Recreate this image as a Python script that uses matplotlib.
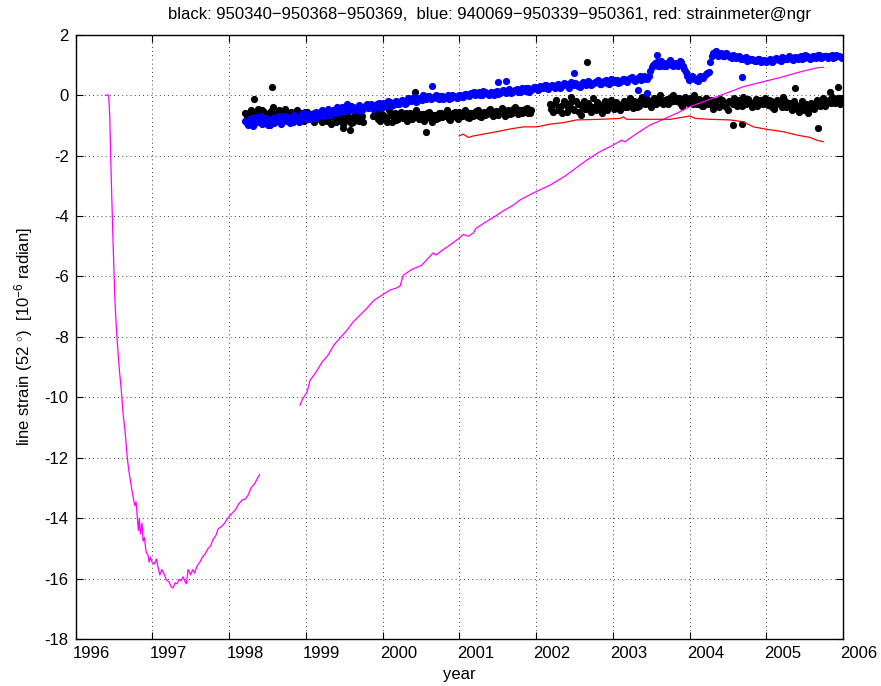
import numpy as np
import matplotlib
matplotlib.use("Agg")
import matplotlib.pyplot as plt
from matplotlib.transforms import ScaledTranslation

plt.rcParams['font.family'] = ['Liberation Sans', 'DejaVu Sans']
plt.rcParams['mathtext.fontset'] = 'custom'
plt.rcParams['mathtext.rm'] = 'Liberation Sans'
plt.rcParams['mathtext.it'] = 'Liberation Sans'
plt.rcParams['axes.unicode_minus'] = False

# strainmeter record (magenta), two pieces
mag1_t = [1996.387, 1996.430, 1996.435, 1996.443, 1996.452, 1996.465, 1996.474, 1996.487,
          1996.500, 1996.513, 1996.530, 1996.552, 1996.574, 1996.596, 1996.617, 1996.643,
          1996.670, 1996.691, 1996.713, 1996.739, 1996.770, 1996.787, 1996.800, 1996.817,
          1996.830, 1996.843, 1996.865, 1996.878, 1996.896, 1996.917, 1996.943, 1996.957,
          1996.974, 1996.996, 1997.026, 1997.052, 1997.070, 1997.096, 1997.122, 1997.148,
          1997.183, 1997.217, 1997.243, 1997.270, 1997.296, 1997.322, 1997.348, 1997.374,
          1997.400, 1997.426, 1997.443, 1997.465, 1997.496, 1997.526, 1997.548, 1997.583,
          1997.617, 1997.652, 1997.691, 1997.726, 1997.757, 1997.791, 1997.826, 1997.857,
          1997.896, 1997.939, 1997.983, 1998.026, 1998.083, 1998.126, 1998.170, 1998.213,
          1998.248, 1998.287, 1998.330, 1998.365, 1998.396]
mag1_v = [0.0, 0.0, -0.27, -0.62, -1.57, -2.86, -3.69, -4.86,
          -5.92, -6.87, -7.69, -8.52, -9.22, -9.81, -10.52, -11.11,
          -11.93, -12.40, -12.76, -13.17, -13.58, -13.46, -13.87, -14.41,
          -14.00, -14.52, -14.17, -14.76, -14.64, -15.11, -15.23, -15.46,
          -15.29, -15.46, -15.52, -15.35, -15.58, -15.88, -15.70, -15.82,
          -16.05, -16.11, -16.27, -16.31, -16.14, -16.17, -16.02, -16.07,
          -15.94, -16.11, -16.17, -15.70, -15.88, -15.70, -15.82, -15.58,
          -15.46, -15.29, -15.17, -15.00, -14.93, -14.70, -14.58, -14.35,
          -14.29, -14.17, -14.00, -13.87, -13.72, -13.52, -13.40, -13.37,
          -13.23, -12.99, -12.87, -12.70, -12.56]

mag2_t = [1998.923, 1998.963, 1999.015, 1999.054, 1999.132, 1999.210, 1999.288, 1999.366,
          1999.445, 1999.536, 1999.614, 1999.705, 1999.796, 1999.888, 1999.992, 2000.096,
          2000.174, 2000.227, 2000.270, 2000.379, 2000.509, 2000.660, 2000.696, 2000.770,
          2000.878, 2000.995, 2001.051, 2001.117, 2001.182, 2001.217, 2001.312, 2001.422,
          2001.573, 2001.703, 2001.790, 2001.986, 2002.181, 2002.377, 2002.660, 2002.833,
          2003.006, 2003.116, 2003.159, 2003.311, 2003.485, 2003.658, 2003.833, 2004.006,
          2004.179, 2004.354, 2004.527, 2004.701, 2004.875, 2005.049, 2005.222, 2005.397,
          2005.571, 2005.678, 2005.743]
mag2_v = [-10.26, -10.03, -9.83, -9.44, -9.17, -8.84, -8.61, -8.27,
          -8.04, -7.78, -7.51, -7.28, -7.05, -6.79, -6.62, -6.45,
          -6.39, -6.32, -5.96, -5.77, -5.63, -5.22, -5.29, -5.15,
          -4.96, -4.74, -4.61, -4.67, -4.56, -4.41, -4.25, -4.08,
          -3.83, -3.64, -3.47, -3.21, -2.98, -2.68, -2.15, -1.87,
          -1.65, -1.49, -1.54, -1.27, -0.99, -0.80, -0.60, -0.38,
          -0.22, -0.05, 0.11, 0.28, 0.39, 0.50, 0.61, 0.74,
          0.85, 0.91, 0.92]

# strainmeter@ngr (red)
red_t = [2000.999, 2001.051, 2001.117, 2001.182, 2001.312, 2001.487, 2001.660, 2001.833,
         2002.008, 2002.181, 2002.355, 2002.529, 2002.833, 2003.093, 2003.137, 2003.181,
         2003.485, 2003.746, 2004.006, 2004.071, 2004.267, 2004.527, 2004.701, 2004.831,
         2005.006, 2005.222, 2005.397, 2005.571, 2005.657, 2005.743]
red_v = [-1.35, -1.29, -1.40, -1.35, -1.29, -1.21, -1.12, -1.05,
         -1.05, -0.96, -0.91, -0.82, -0.80, -0.77, -0.72, -0.80,
         -0.80, -0.80, -0.69, -0.77, -0.80, -0.82, -0.88, -1.05,
         -1.13, -1.21, -1.32, -1.40, -1.49, -1.54]

# GPS line strain, two interleaved sample sets every 0.04 yr
step = 0.04
blue_t0 = 1998.21
blue_v = [-0.85, -1.0, -0.78, -0.95, -0.82, -0.7, -0.92, -0.8, -0.98, -0.75,
          -0.85, -0.68, -0.9, -0.78, -0.72, -0.88, -0.65, -0.8, -0.7, -0.6,
          -0.78, -0.62, -0.72, -0.55, -0.68, -0.5, -0.62, -0.45, -0.58, -0.5,
          -0.4, -0.55, -0.42, -0.3, -0.5, -0.38, -0.45, -0.32, -0.48, -0.35,
          -0.42, -0.28, -0.4, -0.3, -0.38, -0.25, -0.35, -0.22, -0.32, -0.18,
          -0.28, -0.15, -0.3, -0.1, -0.2, -0.05, -0.18, -0.08, 0.02, -0.12,
          -0.02, -0.1, 0.0, -0.12, -0.04, -0.1, 0.0, -0.08, -0.02, -0.1,
          0.02, -0.06, 0.05, -0.03, 0.08, 0.0, 0.1, 0.02, 0.12, 0.04,
          0.1, 0.0, 0.14, 0.06, 0.16, 0.08, 0.2, 0.1, 0.18, 0.12,
          0.22, 0.14, 0.25, 0.16, 0.28, 0.2, 0.3, 0.22, 0.35, 0.26,
          0.32, 0.22, 0.36, 0.28, 0.4, 0.3, 0.42, 0.32, 0.38, 0.28,
          0.42, 0.34, 0.45, 0.36, 0.42, 0.5, 0.38, 0.46, 0.4, 0.52,
          0.44, 0.5, 0.42, 0.55, 0.46, 0.52, 0.6, 0.48, 0.58, 0.5,
          0.62, 0.55, 0.8, 1.0, 1.1, 0.95, 1.05, 0.98, 1.1, 1.0,
          1.08, 0.95, 1.1, 0.85, 0.65, 0.55, 0.6, 0.5, 0.62, 0.58,
          0.7, 0.78, 1.3, 1.42, 1.3, 1.38, 1.28, 1.35, 1.25, 1.32,
          1.22, 1.28, 1.18, 1.25, 1.15, 1.2, 1.12, 1.18, 1.1, 1.16,
          1.12, 1.2, 1.14, 1.22, 1.16, 1.25, 1.18, 1.28, 1.2, 1.26,
          1.18, 1.3, 1.22, 1.28, 1.2, 1.3, 1.24, 1.32, 1.25, 1.3,
          1.22, 1.32, 1.26, 1.3, 1.25]
blue_v2 = [-0.92, -0.8, -1.02, -0.72, -0.9, -0.95, -0.75, -1.0, -0.82, -0.92,
           -0.72, -0.95, -0.7, -0.85, -0.92, -0.68, -0.82, -0.9, -0.62, -0.75,
           -0.68, -0.8, -0.58, -0.75, -0.6, -0.7, -0.52, -0.66, -0.48, -0.6,
           -0.5, -0.38, -0.52, -0.45, -0.35, -0.48, -0.42, -0.52, -0.4, -0.3,
           -0.38, -0.45, -0.32, -0.25, -0.42, -0.3, -0.2, -0.35, -0.25, -0.3,
           -0.22, -0.2, -0.25, -0.15, -0.08, -0.22, -0.1, -0.15, -0.05, -0.02,
           -0.12, -0.05, -0.08, -0.02, -0.14, -0.06, -0.12, 0.02, -0.06, 0.0,
           -0.05, 0.04, 0.0, 0.06, 0.12, 0.05, 0.02, 0.14, 0.08, 0.02,
           0.08, 0.12, 0.04, 0.14, 0.1, 0.16, 0.06, 0.14, 0.2, 0.1,
           0.18, 0.24, 0.12, 0.2, 0.26, 0.16, 0.24, 0.32, 0.2, 0.3,
           0.28, 0.34, 0.25, 0.32, 0.36, 0.25, 0.38, 0.4, 0.3, 0.34,
           0.38, 0.46, 0.32, 0.4, 0.48, 0.36, 0.44, 0.5, 0.38, 0.46,
           0.5, 0.4, 0.48, 0.52, 0.44, 0.56, 0.5, 0.55, 0.62, 0.52,
           0.58, 0.65, 0.92, 1.05, 0.98, 1.12, 0.95, 1.05, 1.15, 0.98,
           1.02, 1.12, 0.95, 0.75, 0.5, 0.62, 0.55, 0.48, 0.58, 0.62,
           0.72, 1.1, 1.38, 1.45, 1.35, 1.3, 1.4, 1.3, 1.22, 1.3,
           1.26, 1.2, 1.22, 1.12, 1.18, 1.15, 1.12, 1.2, 1.14, 1.1,
           1.16, 1.1, 1.18, 1.2, 1.14, 1.22, 1.2, 1.25, 1.16, 1.22,
           1.25, 1.2, 1.32, 1.26, 1.24, 1.28, 1.34, 1.22, 1.28, 1.3,
           1.28, 1.24, 1.34, 1.28, 1.22]
blue_out_t = [2000.64, 2001.61, 2001.51, 2002.49, 2003.58, 2004.68, 2003.45, 2003.33]
blue_out_v = [0.31, 0.47, 0.44, 0.74, 1.33, 0.61, 0.08, 0.17]

black1_t0 = 1998.21
black1_v = [-0.6, -0.85, -0.5, -0.75, -0.45, -0.7, -0.55, -0.9, -0.6, -0.4,
            -0.75, -0.5, -0.65, -0.45, -0.8, -0.55, -0.7, -0.5, -0.6, -0.85,
            -0.55, -0.7, -0.62, -0.8, -0.58, -0.9, -0.65, -0.75, -0.95, -0.6,
            -0.85, -0.7, -0.95, -0.65, -0.8, -0.9, -0.62, -0.85, -0.7]
black1_v2 = [-0.7, -0.55, -0.8, -0.62, -0.72, -0.48, -0.82, -0.65, -0.52, -0.78,
             -0.6, -0.85, -0.55, -0.72, -0.62, -0.9, -0.6, -0.78, -0.7, -0.55,
             -0.8, -0.62, -0.88, -0.7, -0.78, -0.65, -0.85, -0.6, -0.72, -0.88,
             -0.68, -0.78, -0.85, -0.72, -0.92, -0.7, -0.8, -0.68, -0.9]
black2_t0 = 1999.88
black2_v = [-0.7, -0.55, -0.85, -0.65, -0.75, -0.5, -0.9, -0.6, -0.78, -0.55,
            -0.7, -0.85, -0.6, -0.72, -0.5, -0.8, -0.62, -0.7, -0.55, -0.88,
            -0.65, -0.75, -0.58, -0.7, -0.5, -0.82, -0.6, -0.72, -0.55, -0.68,
            -0.48, -0.75, -0.58, -0.65, -0.5, -0.72, -0.55, -0.62, -0.45, -0.7,
            -0.52, -0.6, -0.42, -0.68, -0.5, -0.58, -0.4, -0.62, -0.48, -0.55,
            -0.42, -0.6]
black2_v2 = [-0.6, -0.8, -0.62, -0.72, -0.88, -0.65, -0.7, -0.82, -0.62, -0.75,
             -0.6, -0.65, -0.78, -0.58, -0.7, -0.62, -0.85, -0.6, -0.75, -0.66,
             -0.78, -0.6, -0.72, -0.62, -0.78, -0.65, -0.55, -0.8, -0.62, -0.58,
             -0.72, -0.6, -0.68, -0.52, -0.7, -0.6, -0.66, -0.5, -0.62, -0.55,
             -0.65, -0.48, -0.6, -0.55, -0.62, -0.45, -0.55, -0.5, -0.6, -0.45,
             -0.58, -0.5]
black3_t0 = 2002.18
black3_v = [-0.3, -0.55, -0.15, -0.45, -0.6, -0.25, -0.4, -0.05, -0.5, -0.3,
            -0.65, -0.2, -0.45, -0.35, -0.1, -0.5, -0.3, -0.6, -0.2, -0.4,
            -0.15, -0.45, -0.3, -0.5, -0.2, -0.38, -0.1, -0.42, -0.25, -0.35,
            -0.05, -0.3, -0.18, -0.4, -0.08, -0.25, 0.0, -0.3, -0.12, -0.22,
            0.02, -0.2, -0.1, -0.35, -0.05, -0.25, -0.12, 0.0, -0.3, -0.15,
            -0.35, -0.1, -0.28, -0.45, -0.2, -0.38, -0.15, -0.3, -0.5, -0.22,
            -0.1, -0.35, -0.25, -0.05, -0.3, -0.18, -0.4, -0.12, -0.28, -0.2,
            -0.1, -0.32, -0.2, -0.45, -0.15, -0.3, -0.05, -0.38, -0.25, -0.5,
            -0.3, -0.55, -0.2, -0.4, -0.6, -0.25, -0.45, -0.15, -0.35, -0.1,
            -0.3, -0.15, -0.05, -0.25, -0.1, -0.2]
black3_v2 = [-0.45, -0.3, -0.5, -0.35, -0.2, -0.55, -0.25, -0.45, -0.2, -0.55,
             -0.35, -0.45, -0.25, -0.55, -0.38, -0.22, -0.45, -0.35, -0.5, -0.25,
             -0.35, -0.22, -0.42, -0.3, -0.4, -0.18, -0.32, -0.2, -0.4, -0.15,
             -0.25, -0.12, -0.32, -0.2, -0.28, -0.1, -0.22, -0.15, -0.3, -0.05,
             -0.18, -0.1, -0.25, -0.15, -0.2, -0.08, -0.3, -0.2, -0.12, -0.35,
             -0.2, -0.3, -0.15, -0.25, -0.35, -0.12, -0.28, -0.4, -0.18, -0.3,
             -0.25, -0.15, -0.35, -0.22, -0.12, -0.3, -0.25, -0.35, -0.15, -0.3,
             -0.25, -0.15, -0.38, -0.28, -0.22, -0.4, -0.2, -0.3, -0.42, -0.2,
             -0.45, -0.35, -0.5, -0.28, -0.35, -0.42, -0.3, -0.25, -0.2, -0.35,
             -0.2, -0.25, -0.12, -0.18, -0.3, -0.1]
black_out_t = [1998.56, 1998.32, 1999.49, 1999.57, 2000.57, 2000.42, 2002.66, 2004.57,
               2004.68, 2005.68, 2005.37, 2005.83, 2005.94]
black_out_v = [0.28, -0.13, -1.1, -1.16, -1.21, 0.09, 1.09, -0.99,
               -0.97, -1.1, 0.22, 0.11, 0.26]

years = list(range(1996, 2007))
yticks = list(range(-18, 3, 2))


def sample_times(t0, vals, offset=0.0):
    return t0 + offset + step * np.arange(len(vals))


fig = plt.figure(figsize=(8.81, 6.86), dpi=100)
ax = fig.add_axes([0.0859, 0.0685, 0.8710, 0.8809])

dot = dict(ls='none', marker='o', ms=5.2, mew=0, zorder=2)
black_sets = [(black1_t0, black1_v, black1_v2),
              (black2_t0, black2_v, black2_v2),
              (black3_t0, black3_v, black3_v2)]
for t0, v1, v2 in black_sets:
    ax.plot(sample_times(t0, v1), v1, color='k', **dot)
    ax.plot(sample_times(t0, v2, step / 2), v2, color='k', **dot)
ax.plot(black_out_t, black_out_v, color='k', **dot)
ax.plot(sample_times(blue_t0, blue_v), blue_v, color='#0000ff', **dot)
ax.plot(sample_times(blue_t0, blue_v2, step / 2), blue_v2, color='#0000ff', **dot)
ax.plot(blue_out_t, blue_out_v, color='#0000ff', **dot)

ax.plot(mag1_t, mag1_v, color='#ff00ff', lw=0.9, zorder=3)
ax.plot(mag2_t, mag2_v, color='#ff00ff', lw=0.9, zorder=3)
ax.plot(red_t, red_v, color='#ff0000', lw=0.9, zorder=3)

ax.set_xlim(1996, 2006)
ax.set_ylim(-18, 2)
ax.set_xticks(years)
ax.set_xticklabels([str(y) for y in years])
ax.set_yticks(yticks)
ax.tick_params(direction='in', top=True, right=True, length=5, labelsize=12, pad=5)
ax.grid(True, linestyle=(0, (1, 4)), color='k', linewidth=0.6)
for s in ax.spines.values():
    s.set_linewidth(1.0)

# year labels sit a little right of their tick marks
shift = ScaledTranslation(16 / 100, 0, fig.dpi_scale_trans)
for lab in ax.get_xticklabels():
    lab.set_transform(lab.get_transform() + shift)

ax.set_xlabel('year', fontsize=12, labelpad=4)
ax.set_ylabel(r'line strain (52 $^{\circ}$)  [10$^{-6}$ radian]', fontsize=12, labelpad=7)
fig.text(489 / 881, 1 - 15 / 686,
         'black: 950340\u2212950368\u2212950369,  blue: 940069\u2212950339\u2212950361, red: strainmeter@ngr',
         ha='center', va='center', fontsize=12)

fig.savefig('out.png', dpi=100)
